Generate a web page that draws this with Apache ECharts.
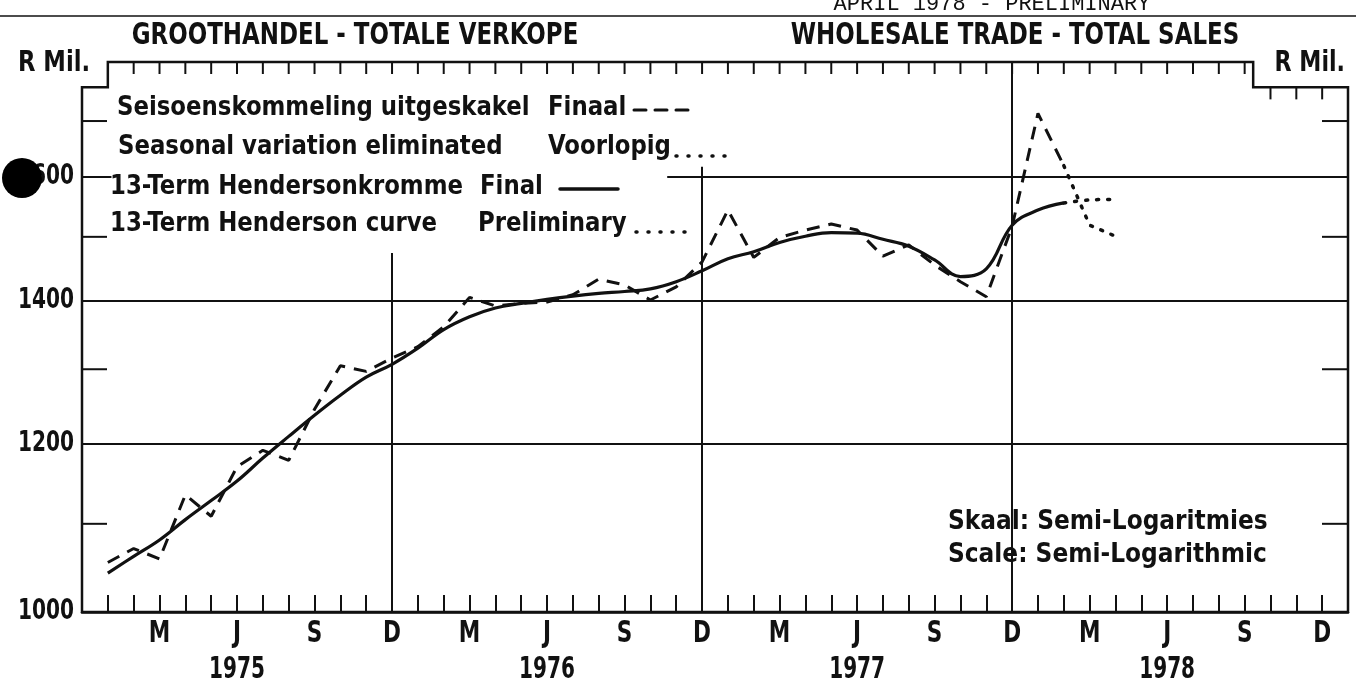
<!DOCTYPE html>
<html>
<head>
<meta charset="utf-8">
<script src="https://cdn.jsdelivr.net/npm/echarts@6/dist/echarts.min.js"></script>
<style>
    html, body {margin: 0; padding: 0; background: #fff;}
    #chart {width: 1356px; height: 698px;}
</style>
</head>
<body>
<div id="chart"></div>
<script>
// month index on the x axis: 0 = Dec 1974, 1 = Jan 1975 ... 48 = Dec 1978
var first_month = 1;

// seasonally adjusted, final (Jan 1975 - Feb 1978), R million
var sa_final = [1055, 1071, 1059, 1135, 1109, 1170, 1191, 1178, 1245, 1305, 1297, 1316,
    1332, 1361, 1405, 1392, 1396, 1398, 1409, 1433, 1424, 1401, 1421, 1460,
    1544, 1467, 1499, 1511, 1521, 1511, 1469, 1487, 1455, 1429, 1406, 1517,
    1714, 1620];
// seasonally adjusted, preliminary (Feb - Apr 1978)
var sa_prelim = [1620, 1519, 1501];

// 13-term Henderson curve, final (Jan 1975 - Feb 1978)
var trend_final = [1043, 1062, 1081, 1105, 1128, 1152, 1181, 1209, 1237, 1264, 1289, 1307,
    1330, 1357, 1376, 1389, 1396, 1402, 1407, 1411, 1414, 1418, 1429, 1446,
    1465, 1476, 1491, 1501, 1507, 1506, 1496, 1485, 1463, 1437, 1449, 1519,
    1544, 1556];
// 13-term Henderson curve, preliminary (Feb - Apr 1978)
var trend_prelim = [1556, 1561, 1562];

var month_letters = ['D', 'M', 'J', 'S'];   // Dec, Mar, Jun, Sep
var years = ['1975', '1976', '1977', '1978'];
var y_labels = [1000, 1200, 1400, 1600];
var y_minor = [1100, 1300, 1500, 1700];

var ink = '#111';
var narrow = "'DejaVu Sans Condensed', 'Liberation Sans Narrow', sans-serif";
var y_top = 1812, y_notch = 1763, x_notch = 45.33, x_max = 49;

function to_pairs(start, values) {
    var out = [];
    for (var i = 0; i < values.length; i++) out.push([start + i, values[i]]);
    return out;
}

// short frame ticks, drawn from an axis point by a pixel offset
function tick_renderer(dx, dy) {
    return function (params, api) {
        var p = api.coord([api.value(0), api.value(1)]);
        return {
            type: 'line',
            shape: {x1: p[0], y1: p[1], x2: p[0] + dx, y2: p[1] + dy},
            style: {stroke: ink, lineWidth: 2}
        };
    };
}

function frame_renderer(params, api) {
    var c = function (m, v) { return api.coord([m, v]); };
    return {
        type: 'polygon',
        shape: {points: [c(1, y_top), c(x_notch, y_top), c(x_notch, y_notch), c(x_max, y_notch),
            c(x_max, 1000), c(0, 1000), c(0, y_notch), c(1, y_notch)]},
        style: {fill: 'none', stroke: ink, lineWidth: 2.5}
    };
}

var top_ticks = [], notch_ticks = [], left_ticks = [], right_ticks = [];
for (var m = 2; m <= 45; m++) top_ticks.push([m, y_top]);
for (var m = 46; m <= 48; m++) notch_ticks.push([m, y_notch]);
for (var i = 0; i < y_minor.length; i++) {
    left_ticks.push([0, y_minor[i]]);
    right_ticks.push([x_max, y_minor[i]]);
}

var chart = echarts.init(document.getElementById('chart'));
chart.setOption({
    animation: false,
    backgroundColor: '#fff',
    grid: {left: 82, right: 8, top: 62, bottom: 86},
    xAxis: {
        type: 'value', min: 0, max: x_max, interval: 1,
        axisLine: {show: true, onZero: false, lineStyle: {color: ink, width: 2.5}},
        axisTick: {show: true, inside: true, length: 17, lineStyle: {color: ink, width: 2}},
        splitLine: {show: false},
        axisLabel: {show: false}
    },
    yAxis: {type: 'log', min: 1000, max: y_top, show: false},
    series: [{
        name: 'Henderson final', type: 'line', smooth: 0.4, symbol: 'none',
        data: to_pairs(first_month, trend_final),
        lineStyle: {color: ink, width: 3.2},
        markLine: {
            silent: true, symbol: 'none', label: {show: false},
            lineStyle: {color: ink, width: 2, type: 'solid'},
            data: [
                {yAxis: 1200}, {yAxis: 1400},
                [{coord: [0, 1600]}, {coord: [1.14, 1600]}],
                [{coord: [22.65, 1600]}, {coord: [x_max, 1600]}],
                [{coord: [12, 1000]}, {coord: [12, 1474]}],
                [{coord: [24, 1000]}, {coord: [24, 1618]}],
                [{coord: [36, 1000]}, {coord: [36, y_top]}]
            ]
        }
    }, {
        name: 'Henderson preliminary', type: 'line', smooth: 0.4, symbol: 'none',
        data: to_pairs(first_month + trend_final.length - 1, trend_prelim),
        lineStyle: {color: ink, width: 3.5, type: [2, 9], cap: 'round'}
    }, {
        name: 'Seasonal final', type: 'line', symbol: 'none',
        data: to_pairs(first_month, sa_final),
        lineStyle: {color: ink, width: 3, type: [13, 9]}
    }, {
        name: 'Seasonal preliminary', type: 'line', symbol: 'none',
        data: to_pairs(first_month + sa_final.length - 1, sa_prelim),
        lineStyle: {color: ink, width: 3.5, type: [2, 9], cap: 'round'}
    }, {
        type: 'custom', renderItem: frame_renderer, data: [[0, 1000]], clip: false, silent: true
    }, {
        type: 'custom', renderItem: tick_renderer(0, 12), data: top_ticks, clip: false, silent: true
    }, {
        type: 'custom', renderItem: tick_renderer(0, 12), data: notch_ticks, clip: false, silent: true
    }, {
        type: 'custom', renderItem: tick_renderer(25, 0), data: left_ticks, clip: false, silent: true
    }, {
        type: 'custom', renderItem: tick_renderer(-26, 0), data: right_ticks, clip: false, silent: true
    }]
});

// condensed bold text; sx squeezes it sideways like the original lettering
function txt(x, y, s, size, align, sx, family, weight) {
    return {
        type: 'text', x: x, y: y, z: 10, scaleX: sx || 1,
        style: {
            text: s, fill: ink,
            font: (weight || 'bold') + ' ' + size + 'px ' + (family || narrow),
            align: align || 'left', verticalAlign: 'middle',
            textAlign: align || 'left', textVerticalAlign: 'middle'
        }
    };
}

function seg(x1, y1, x2, y2, dash, width) {
    return {
        type: 'line', z: 10,
        shape: {x1: x1, y1: y1, x2: x2, y2: y2},
        style: {stroke: ink, lineWidth: width || 3, lineDash: dash || null, lineCap: 'round'}
    };
}

var graphics = [
    seg(0, 16, 1356, 16, null, 1.5),
    txt(992, 4, 'APRIL 1978 - PRELIMINARY', 22, 'center', 1, "'Liberation Mono', 'DejaVu Sans Mono', monospace", 'normal'),
    txt(355, 36, 'GROOTHANDEL - TOTALE VERKOPE', 30, 'center', 0.85),
    txt(1015, 36, 'WHOLESALE TRADE - TOTAL SALES', 30, 'center', 0.85),
    txt(18, 64, 'R Mil.', 28, 'left', 0.9),
    txt(1345, 64, 'R Mil.', 28, 'right', 0.88),

    txt(117, 108, 'Seisoenskommeling uitgeskakel', 27, 'left', 0.94),
    txt(548, 108, 'Finaal', 27, 'left', 0.94),
    seg(634, 110, 692, 110, [12, 9], 3),
    txt(118, 147, 'Seasonal variation eliminated', 27, 'left', 0.94),
    txt(548, 147, 'Voorlopig', 27, 'left', 0.94),
    seg(676, 156, 728, 156, [1, 11], 3.5),
    txt(110, 187, '13-Term Hendersonkromme', 27, 'left', 0.94),
    txt(480, 187, 'Final', 27, 'left', 0.94),
    seg(560, 189, 618, 189, null, 3.5),
    txt(110, 224, '13-Term Henderson curve', 27, 'left', 0.94),
    txt(478, 224, 'Preliminary', 27, 'left', 0.94),
    seg(636, 232, 692, 232, [1, 11], 3.5),

    txt(948, 522, 'Skaal: Semi-Logaritmies', 27, 'left', 0.96),
    txt(948, 555, 'Scale: Semi-Logarithmic', 27, 'left', 0.96)
];

// y tick labels through the log scale
for (var i = 0; i < y_labels.length; i++) {
    var p = chart.convertToPixel({gridIndex: 0}, [0, y_labels[i]]);
    graphics.push(txt(p[0] - 8, p[1], String(y_labels[i]), 28, 'right', 0.8));
}
// month letters every quarter, year under June
for (var m = 3; m <= 48; m += 3) {
    var p = chart.convertToPixel({gridIndex: 0}, [m, 1000]);
    graphics.push(txt(p[0], p[1] + 22, month_letters[(m % 12) / 3], 30, 'center', 0.8));
    if (m % 12 === 6) graphics.push(txt(p[0], p[1] + 58, years[(m - 6) / 12], 31, 'center', 0.72));
}
// punched hole in the scanned sheet
graphics.push({type: 'circle', z: 20, shape: {cx: 22, cy: 178, r: 20}, style: {fill: '#000'}});

chart.setOption({graphic: graphics});
</script>
</body>
</html>
